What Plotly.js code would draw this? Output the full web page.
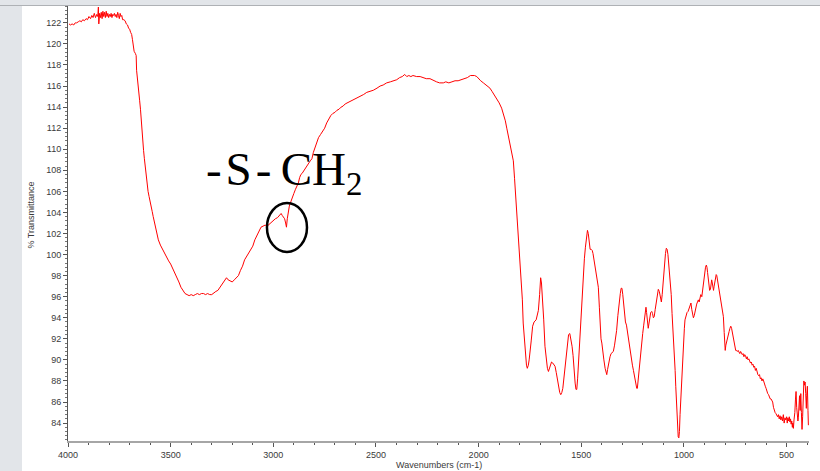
<!DOCTYPE html>
<html>
<head>
<meta charset="utf-8">
<script src="https://cdn.plot.ly/plotly-3.0.1.min.js"></script>
<style>
  html, body { margin: 0; padding: 0; background: #e2e5e9; width: 820px; height: 471px; overflow: hidden; }
  #topline { position: absolute; left: 0; top: 5px; width: 820px; height: 1px; background: #aeb1b5; }
  #chart { position: absolute; left: 22px; top: 6px; width: 798px; height: 465px; background: #ffffff; }
</style>
</head>
<body>
<div id="topline"></div>
<div id="chart"></div>
<script>
// Wavenumbers (cm-1)
const wavenumbers = [
3995,3988,3980,3972,3965,3958,3950,3942,3935,3928,3920,3912,3905,3898,3890,3884,3878,3872,3866,3860,
3855,3852,3850,3846,3842,3838,3834,3830,3826,3822,3818,3814,3810,3806,3802,3798,3794,3790,3786,3782,
3778,3774,3770,3766,3762,3758,3754,3750,3746,3742,3738,3734,3728,3722,3716,3710,3705,3700,3695,3690,
3686,3682,3678,3672,3668,3666,3662,3659,3655,3651,3647,3644,3640,3636,3632,3628,3624,3620,3615,3610,
3605,3600,3595,3590,3585,3580,3575,3570,3565,3560,3550,3540,3530,3520,3510,3500,3490,3480,3470,3460,
3450,3440,3430,3420,3410,3400,3390,3380,3370,3360,3350,3340,3330,3320,3310,3300,3290,3280,3270,3260,
3250,3240,3228,3220,3210,3200,3190,3180,3170,3160,3150,3140,3130,3120,3110,3100,3090,3080,3070,3060,
3050,3040,3030,3020,3010,3000,2990,2980,2970,2962,2956,2950,2945,2940,2936,2932,2928,2922,2915,2908,
2900,2892,2885,2878,2872,2866,2860,2854,2846,2838,2830,2820,2812,2805,2797,2789,2780,2770,2760,2750,
2740,2730,2720,2710,2700,2690,2680,2670,2660,2650,2640,2626,2610,2595,2578,2560,2545,2530,2513,2495,
2480,2465,2448,2430,2415,2399,2385,2372,2360,2350,2340,2330,2320,2302,2285,2270,2255,2237,2220,2205,
2190,2172,2160,2145,2130,2115,2100,2085,2070,2055,2040,2030,2020,2009,2000,1990,1977,1965,1955,1945,
1935,1925,1912,1900,1888,1878,1870,1863,1855,1847,1840,1831,1825,1818,1812,1807,1801,1795,1790,1787,
1783,1779,1775,1771,1767,1763,1758,1754,1750,1744,1737,1730,1720,1714,1709,1703,1698,1694,1688,1683,
1677,1670,1665,1660,1652,1645,1639,1633,1628,1622,1617,1610,1605,1600,1595,1590,1586,1580,1574,1568,
1562,1556,1550,1545,1540,1535,1530,1526,1522,1518,1514,1510,1505,1500,1495,1490,1485,1480,1475,1470,
1466,1462,1457,1452,1447,1443,1438,1433,1428,1422,1417,1412,1408,1404,1400,1395,1390,1384,1380,1376,
1372,1366,1360,1355,1350,1344,1338,1333,1328,1322,1316,1310,1306,1302,1298,1294,1290,1285,1280,1275,
1270,1265,1260,1256,1251,1246,1240,1235,1230,1227,1222,1217,1212,1206,1201,1196,1191,1187,1185,1182,
1178,1174,1170,1166,1162,1157,1153,1149,1145,1140,1135,1130,1125,1120,1115,1110,1106,1102,1098,1094,
1090,1086,1082,1078,1074,1070,1066,1062,1058,1054,1050,1046,1043,1040,1036,1032,1028,1025,1022,1019,
1016,1013,1010,1006,1002,998,995,990,985,980,975,970,966,962,958,954,950,946,942,938,
934,930,926,922,918,913,909,905,900,895,891,888,885,882,878,875,871,868,865,862,
859,856,853,850,846,843,840,836,832,828,824,820,816,812,808,804,801,799,796,792,
788,783,780,776,772,768,764,760,756,752,748,744,740,736,732,728,724,720,716,712,
708,704,700,696,692,688,684,680,676,672,668,664,660,656,652,648,644,640,636,632,
628,624,620,616,612,608,604,600,596,592,588,584,580,576,572,568,564,560,556,552,
548,544,540,536,532,528,524,520,516,512,508,504,500,497,494,490,487,484,481,478,
475,472,470,467,464,460,457,454,451,448,445,443,440,437,434,431,428,425,422,419,
416,413,410,407,404,402,399,396,394
];
// % Transmittance
const transmittance = [
121.9,121.8,121.9,121.8,122.0,122.0,122.1,122.2,122.1,122.3,122.2,122.4,122.3,122.6,122.4,122.7,122.5,122.9,122.5,122.8,
122.6,123.5,121.9,122.9,122.5,123.0,122.4,123.1,122.6,123.0,122.5,123.1,122.6,122.9,122.5,122.8,122.6,122.9,122.5,122.8,
122.7,122.9,122.6,122.8,122.5,123.0,122.7,122.4,122.9,122.6,122.7,122.3,122.3,122.2,121.9,121.8,121.5,121.4,121.1,120.9,
120.4,119.5,119.3,119.1,118.9,117.5,116.6,115.6,115.2,114.6,113.8,112.8,111.9,110.9,109.9,109.1,108.3,107.4,106.6,106.0,
105.5,105.1,104.7,104.1,103.6,103.2,102.6,102.1,101.8,101.4,100.9,100.5,100.1,99.8,99.4,99.1,98.7,98.2,97.8,97.4,
96.9,96.6,96.3,96.2,96.1,96.2,96.1,96.2,96.3,96.2,96.3,96.3,96.2,96.3,96.2,96.2,96.4,96.5,96.6,96.9,
97.2,97.5,97.8,97.6,97.5,97.4,97.6,97.8,98.0,98.5,98.9,99.5,99.8,100.1,100.4,100.8,101.4,101.8,102.3,102.6,
102.7,102.8,102.7,102.9,103.1,103.3,103.4,103.5,103.7,103.9,103.7,103.5,103.4,103.0,102.6,103.4,104.0,104.6,105.0,105.3,
105.8,106.2,106.5,106.8,107.3,107.6,107.7,107.9,108.2,108.4,108.6,108.9,109.1,109.7,110.2,110.6,111.1,111.4,111.7,112.0,
112.5,112.9,113.2,113.4,113.5,113.7,113.8,114.0,114.1,114.3,114.4,114.5,114.7,114.8,115.0,115.2,115.4,115.5,115.6,115.8,
116.0,116.1,116.3,116.4,116.5,116.6,116.8,116.9,117.1,116.9,117.0,116.9,117.0,116.9,116.9,116.8,116.7,116.7,116.5,116.4,
116.3,116.3,116.4,116.3,116.4,116.5,116.5,116.6,116.7,116.8,117.0,117.0,117.0,116.9,116.7,116.5,116.3,116.1,115.9,115.8,
115.5,115.2,114.8,114.4,113.9,113.3,112.7,112.0,111.3,110.6,109.8,108.9,107.2,105.2,103.6,102.0,100.4,98.9,96.8,95.7,
93.5,92.5,91.2,90.3,89.5,89.2,89.5,90.0,90.6,91.8,93.2,93.6,93.8,94.3,94.7,96.2,97.8,97.3,95.7,93.8,
91.3,89.8,89.2,88.9,89.3,89.8,89.7,89.5,89.4,88.8,88.1,87.4,86.9,86.7,86.9,87.3,88.0,89.2,90.3,91.5,
92.4,92.5,92.0,91.3,90.4,88.8,87.8,87.2,87.2,88.2,89.6,91.0,93.0,95.0,96.8,98.3,99.6,100.7,101.6,102.3,
102.0,101.2,100.5,100.5,100.4,100.1,99.5,98.9,98.5,97.6,96.9,95.0,93.2,92.0,91.6,90.6,90.0,89.2,88.9,88.6,
89.1,89.8,90.3,90.6,90.7,90.8,91.4,92.0,92.8,94.2,95.5,96.3,96.8,96.8,96.2,95.4,94.1,93.6,93.3,92.6,
91.8,91.1,90.5,90.1,89.5,89.0,88.2,87.6,87.3,87.3,88.4,89.7,90.8,91.7,92.5,93.3,94.1,94.8,95.0,94.5,
93.6,93.0,93.5,94.1,94.5,94.6,94.4,94.0,94.1,94.8,95.5,96.1,96.7,96.5,95.9,95.5,96.2,97.3,98.4,99.3,
100.1,100.6,100.5,100.0,99.1,97.9,97.4,96.2,94.4,93.2,91.5,89.8,89.0,87.5,85.5,83.8,82.7,82.6,83.2,84.8,
86.2,87.3,88.3,89.9,91.6,93.0,93.8,94.3,94.5,94.6,94.9,95.1,95.4,94.8,94.3,94.0,94.2,94.7,95.1,95.3,
95.5,95.7,95.5,95.9,96.2,96.0,96.7,97.5,98.2,98.8,99.0,98.8,98.3,97.7,97.2,96.6,96.7,97.3,97.6,97.3,
96.8,96.6,97.0,97.5,97.9,98.1,98.0,97.5,97.1,96.7,96.3,95.6,95.0,94.4,94.1,92.6,91.3,90.9,91.4,91.8,
92.1,92.4,92.7,93.0,93.2,93.0,92.6,92.2,91.6,91.2,90.9,90.9,90.8,90.9,90.7,90.6,90.8,90.6,90.5,90.6,
90.3,90.5,90.4,90.1,90.3,90.0,90.1,89.9,89.7,89.8,89.5,89.6,89.3,89.4,89.0,89.2,88.8,88.6,88.5,88.6,
88.2,88.3,88.0,88.2,88.0,87.6,87.5,87.3,87.0,86.8,86.7,86.5,86.3,86.3,86.1,86.0,85.5,85.2,85.0,84.9,
84.8,84.6,84.8,84.4,84.7,84.3,84.6,84.2,84.8,84.0,84.5,84.3,84.6,84.0,84.5,84.2,84.6,84.1,84.4,83.9,
84.2,83.6,84.0,83.5,84.3,85.0,86.2,87.0,85.5,84.8,84.2,84.5,85.8,86.6,85.2,86.8,85.0,83.4,84.6,86.1,
88.0,87.6,87.9,86.8,85.4,86.6,87.5,85.2,83.8
];
// Axis ticks
const xTickValues = [4000, 3500, 3000, 2500, 2000, 1500, 1000, 500];
const yTickValues = [84,86,88,90,92,94,96,98,100,102,104,106,108,110,112,114,116,118,120,122];

const axisFont = {family: 'Liberation Sans, Arial, sans-serif', size: 9, color: '#3a3a3a'};

const trace = {
  x: wavenumbers,
  y: transmittance,
  type: 'scatter',
  mode: 'lines',
  line: {color: '#ff0000', width: 1},
  hoverinfo: 'skip'
};

const layout = {
  width: 798,
  height: 465,
  margin: {l: 46, r: 11, t: 0, b: 30, pad: 0},
  paper_bgcolor: '#ffffff',
  plot_bgcolor: '#ffffff',
  showlegend: false,
  xaxis: {
    range: [4000, 391],
    tickvals: xTickValues,
    ticktext: xTickValues.map(String),
    ticks: 'outside', ticklen: 4, tickwidth: 1, tickcolor: '#555555',
    minor: {dtick: 100, tick0: 0, ticks: 'outside', ticklen: 2, tickcolor: '#555555', showgrid: false},
    showline: true, linecolor: '#a6a6a6', linewidth: 2,
    showgrid: false, zeroline: false,
    tickfont: axisFont
  },
  yaxis: {
    range: [82.3, 123.6],
    tickvals: yTickValues,
    ticktext: yTickValues.map(String),
    ticks: 'outside', ticklen: 4, tickwidth: 1, tickcolor: '#555555',
    minor: {dtick: 0.4, tick0: 0, ticks: 'outside', ticklen: 2, tickcolor: '#777777', showgrid: false},
    showline: true, linecolor: '#555555', linewidth: 1,
    showgrid: false, zeroline: false,
    tickfont: axisFont
  },
  shapes: [{
    type: 'circle', xref: 'x', yref: 'y',
    x0: 3031, x1: 2836, y0: 100.25, y1: 104.9,
    line: {color: '#000000', width: 2.5}
  }],
  annotations: [
    {
      text: '-\u200AS\u200A-\u2009CH<sub>2</sub>', xref: 'x', yref: 'y', x: 2950, y: 107.8,
      xanchor: 'center', yanchor: 'middle', showarrow: false,
      font: {family: 'Liberation Serif, Times New Roman, serif', size: 47, color: '#000000'}
    },
    {
      text: 'Wavenumbers (cm-1)', xref: 'paper', yref: 'paper', x: 0.5, y: 0,
      xanchor: 'center', yanchor: 'middle', yshift: -24, showarrow: false,
      font: {family: 'Liberation Sans, Arial, sans-serif', size: 9, color: '#3a3a3a'}
    },
    {
      text: '% Transmittance', xref: 'paper', yref: 'paper', x: 0, y: 0.5,
      xanchor: 'center', yanchor: 'middle', xshift: -38, yshift: 8, textangle: -90, showarrow: false,
      font: {family: 'Liberation Sans, Arial, sans-serif', size: 9, color: '#3a3a3a'}
    }
  ]
};

Plotly.newPlot('chart', [trace], layout, {staticPlot: true, displayModeBar: false});
</script>
</body>
</html>
